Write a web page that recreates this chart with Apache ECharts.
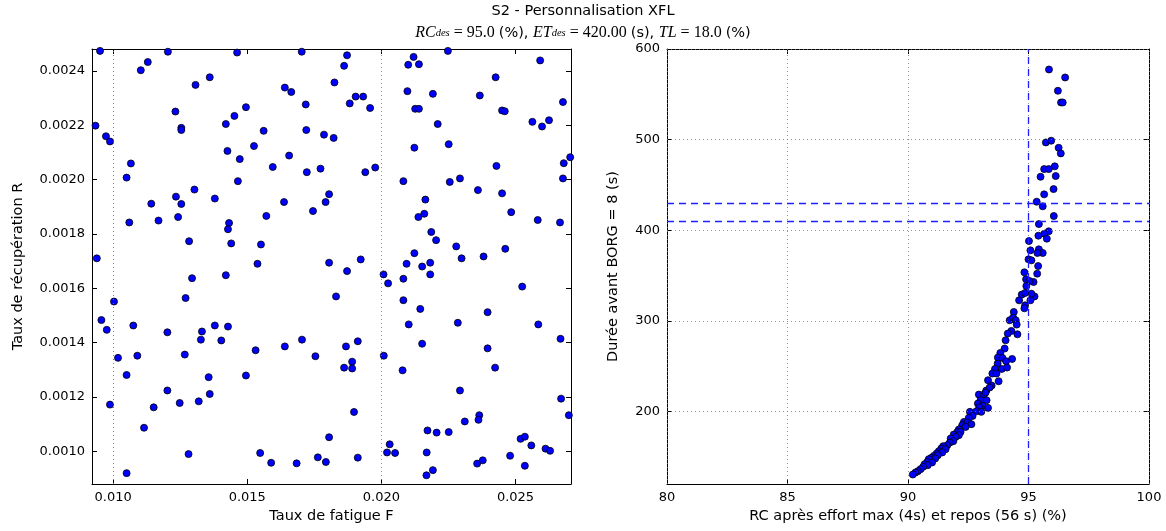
<!DOCTYPE html>
<html>
<head>
<meta charset="utf-8">
<script src="https://cdn.jsdelivr.net/npm/echarts@6/dist/echarts.min.js"></script>
<style>
html,body{margin:0;padding:0;background:#fff;}
#chart{width:1166px;height:531px;}
</style>
</head>
<body>
<div id="chart"></div>
<script>
// ---- Left subplot: Taux de fatigue F vs Taux de récupération R ----
const fatigueF = [
0.00951,0.01204,0.01462,0.01703,0.01129,0.01103,0.0136,0.01307,0.0164,0.01664,
0.01718,0.01495,0.01232,0.01452,0.0142,0.00934,0.01254,0.01254,0.01561,0.0172,
0.01786,0.00973,0.00988,0.01525,0.01426,0.01656,0.01472,0.01066,0.01595,0.01773,
0.01722,0.0105,0.01465,0.01805,0.01303,0.01234,0.01379,0.01637,0.01792,0.01142,
0.01254,0.01745,0.01242,0.01571,0.0106,0.01169,0.01432,0.01428,0.01283,0.0144,
0.01551,0.00939,
0.01538,0.01805,0.01294,0.0142,0.0127,0.01003,0.00956,0.00976,0.01075,0.01202,
0.01331,0.01327,0.01379,0.01428,0.01403,0.01704,0.01531,0.0164,0.01018,0.0109,
0.01267,0.01754,0.0105,0.01356,0.01495,0.01202,0.0136,0.00988,0.01151,0.01248,
0.01319,0.01115,0.01805,0.01281,0.01548,0.01589,0.01684,0.01763,0.01793,0.0105,
0.01872,0.01861,0.0212,0.021,0.0214,0.02248,0.02592,0.01825,0.02426,0.01904,
0.01932,0.01882,0.01958,0.02097,0.02192,0.02367,0.02126,0.0214,0.0245,0.0246,
0.02677,0.0221,0.02563,0.02599,0.02625,0.01822,0.02123,0.02251,0.0194,0.01977,
0.02429,0.02704,0.0268,0.02677,0.02082,0.02255,0.02293,0.0236,0.0245,0.02164,
0.0216,0.02138,0.02484,0.02583,0.02666,0.02186,0.02204,0.02279,0.02462,0.02708,
0.02123,0.01923,0.02299,0.02381,
0.01872,0.02008,0.02025,0.02082,0.02094,0.02152,0.02182,0.02182,0.02525,0.01831,
0.02082,0.02145,0.02396,0.02285,0.02102,0.02585,0.02668,0.01912,0.01868,0.02152,
0.02396,0.02009,0.01891,0.01861,0.01891,0.02079,0.02424,0.02293,0.0267,0.02699,
0.01898,0.02365,0.02362,0.02311,0.02172,0.02206,0.02251,0.02031,0.02021,0.02051,
0.02169,0.02519,0.02535,0.02559,0.02612,0.02629,0.0248,0.01912,0.02357,0.02378,
0.02535,0.02168,0.02192,0.02709
];
const recuperationR = [
0.002473,0.00247,0.002467,0.00247,0.002432,0.002402,0.002376,0.002348,0.002338,0.002322,
0.002276,0.002266,0.00225,0.002234,0.002204,0.002198,0.00219,0.002182,0.002179,0.002182,
0.002165,0.002159,0.00214,0.002123,0.002105,0.002088,0.002075,0.002059,0.002046,0.00204,
0.002027,0.002007,0.001994,0.001946,0.001963,0.001937,0.00193,0.001917,0.001917,0.001911,
0.00191,0.001884,0.001862,0.001866,0.001842,0.001849,0.00184,0.001817,0.001773,0.001765,
0.001761,0.00171,
0.00169,0.001694,0.001637,0.001648,0.001564,0.001551,0.001483,0.001447,0.001463,0.001438,
0.001441,0.001411,0.001463,0.001459,0.001408,0.001411,0.001372,0.001386,0.001344,0.001352,
0.001356,0.00135,0.001281,0.001273,0.001279,0.001224,0.001211,0.001172,0.001162,0.001178,
0.001184,0.001087,0.001052,0.00099,0.000994,0.000958,0.000956,0.000978,0.000961,0.00092,
0.002457,0.002418,0.002451,0.002422,0.002424,0.002473,0.002438,0.002357,0.002376,0.002305,
0.002305,0.00228,0.002263,0.002325,0.002315,0.002309,0.00226,0.00226,0.002254,0.002251,
0.002285,0.002204,0.002212,0.002195,0.002218,0.002153,0.002117,0.00213,0.002027,0.002044,
0.00205,0.002082,0.00206,0.002004,0.001994,0.001991,0.002004,0.001961,0.001949,0.001926,
0.001874,0.001862,0.00188,0.001851,0.001842,0.001807,0.001777,0.001754,0.001745,0.001771,
0.001729,0.001706,0.00171,0.001717,
0.001663,0.001651,0.001618,0.001635,0.00169,0.00168,0.001694,0.001651,0.001606,0.00157,
0.001556,0.001524,0.001512,0.001473,0.001467,0.001467,0.001414,0.001405,0.001386,0.001396,
0.001379,0.001352,0.00133,0.001308,0.001305,0.001298,0.001308,0.001224,0.001194,0.001133,
0.001145,0.001133,0.001116,0.00111,0.001077,0.001069,0.001071,0.001026,0.000996,0.000994,
0.000996,0.001046,0.001054,0.001022,0.00101,0.001002,0.000984,0.000977,0.000955,0.000967,
0.000947,0.000912,0.000931,0.000893
];
const leftXTicks = [0.010, 0.015, 0.020, 0.025];
const leftYTicks = [0.0010, 0.0012, 0.0014, 0.0016, 0.0018, 0.0020, 0.0022, 0.0024];

// ---- Right subplot: RC après effort vs Durée avant BORG ----
const rcApresEffort = [
95.85,96.52,96.22,96.35,96.42,95.72,95.94,96.25,96.34,96.09,95.65,95.84,95.5,96.13,
96.04,95.65,95.34,95.59,96.05,95.43,95.84,95.66,95.41,95.76,95.02,95.08,95.43,95.59,
95.37,95.0,95.12,95.4,94.83,95.36,94.9,95.21,95.04,94.91,
95.25,95.08,94.86,95.12,
94.72,94.86,94.61,94.83,94.39,94.22,94.36,94.47,94.51,94.29,94.14,94.54,94.05,94.01,
93.83,93.73,93.92,94.32,94.07,93.72,93.89,94.11,93.61,93.5,93.67,93.76,93.32,93.47,
93.25,93.39,92.94,93.15,
93.22,93.01,93.26,92.9,93.11,93.32,92.96,92.84,93.04,92.57,92.68,92.52,92.32,92.46,
92.63,92.25,92.39,92.11,92.05,92.18,91.9,92.11,91.98,91.77,91.88,91.74,91.63,91.46,
91.38,91.56,91.28,91.42,91.19,91.07,91.24,90.96,91.13,90.86,90.8,91.0,90.69,90.82,
90.63,90.52,90.41,90.31,90.2
];
const dureeBorg = [
577.4,568.6,553.9,541,541,496.9,498.8,491,484.8,470.5,467.5,467.5,459,459.8,
445.4,439.6,431.5,426.4,415.7,406.8,398.8,396.2,394,390.7,388.1,377.8,378.9,374.9,
374.9,367.9,366.8,360.5,353.6,352.1,345.9,342.9,344,338.5,
327,322.7,317.2,330,
329,330.8,322.7,313.9,309.8,300.7,303.6,300.7,295.9,288.9,286,285.2,278.6,269.5,
264.6,259.5,259.1,258,255.5,252.9,247,248.5,247,241.9,241.9,233.4,234.5,228.7,
223.2,226.5,218.7,218.7,
220.9,212.5,212.5,208.8,206.2,204,204.7,200.3,199.6,199.6,195.1,192.9,188.5,187.9,
186,184.9,183,180.2,177.5,177.5,174.6,173.9,172,170.2,167.3,165.8,162.8,161.7,
159.2,158.4,156.2,154.8,153.7,151,151.8,148.8,148.2,147.4,144.4,143.8,141.9,140.8,
138.9,136.4,134.2,132.7,130.5
];
const rightXTicks = [80, 85, 90, 95, 100];
const rightYTicks = [200, 300, 400, 500, 600];
const rcTarget = [95];
const dureeBounds = [410, 430];

const chart = echarts.init(document.getElementById('chart'), null, {renderer: 'canvas'});

const leftData = fatigueF.map((v, i) => [v, recuperationR[i]]);
const rightData = rcApresEffort.map((v, i) => [v, dureeBorg[i]]);

const FONT = 'DejaVu Sans';
const TICK_FS = 13;
const NAME_FS = 14.5;
const gridLine = {color: '#777', type: [1, 3], width: 0.8};
const frameLine = {show: true, onZero: false, lineStyle: {color: '#000', width: 1}};

function gridMarks(xs, ys) {
  return {
    silent: true, symbol: 'none', animation: false,
    label: {show: false}, lineStyle: gridLine,
    emphasis: {disabled: true},
    data: xs.map(v => ({xAxis: v})).concat(ys.map(v => ({yAxis: v})))
  };
}

function axis(gi, pos, min, max, ticks, fmt, name, nameGap) {
  const o = {
    type: 'value', gridIndex: gi, position: pos, min: min, max: max,
    axisLine: frameLine,
    axisTick: {show: true, inside: true, length: 5, customValues: ticks, lineStyle: {color: '#000'}},
    axisLabel: {show: pos === 'bottom' || pos === 'left', customValues: ticks, formatter: fmt,
                color: '#000', fontFamily: FONT, fontSize: TICK_FS, margin: 7},
    splitLine: {show: false}
  };
  if (name) {
    o.name = name; o.nameLocation = 'middle'; o.nameGap = nameGap;
    o.nameTextStyle = {color: '#000', fontFamily: FONT, fontSize: NAME_FS};
  }
  return o;
}

const fmt3 = v => v.toFixed(3);
const fmt4 = v => v.toFixed(4);
const fmt0 = v => String(Math.round(v));

const option = {
  animation: false,
  backgroundColor: '#fff',
  title: [{
    text: 'S2 - Personnalisation XFL',
    left: 'center', top: -1,
    textStyle: {fontFamily: FONT, fontSize: 14.5, fontWeight: 'normal', color: '#000'}
  }, {
    text: '{mi|RC}{sub|des}{rm| = 95.0 }{tx|(%), }{mi|ET}{sub|des}{rm| = 420.00 }{tx|(s), }{mi|TL}{rm| = 18.0 }{tx|(%)}',
    left: 'center', top: 13,
    textStyle: {
      fontWeight: 'normal', color: '#000',
      rich: {
        mi: {fontFamily: 'Liberation Serif', fontStyle: 'italic', fontSize: 16, color: '#000', height: 18, verticalAlign: 'bottom'},
        sub: {fontFamily: 'Liberation Serif', fontStyle: 'italic', fontSize: 10.5, color: '#000', height: 18, verticalAlign: 'bottom', padding: [6, 0, 0, 0]},
        rm: {fontFamily: 'Liberation Serif', fontSize: 16, color: '#000', height: 18, verticalAlign: 'bottom'},
        tx: {fontFamily: FONT, fontSize: 14.5, color: '#000', height: 18, verticalAlign: 'bottom'}
      }
    }
  }],
  grid: [
    {left: 92, top: 49, width: 479, height: 435},
    {left: 667, top: 49, width: 482, height: 435}
  ],
  xAxis: [
    axis(0, 'bottom', 0.00921, 0.02707, leftXTicks, fmt3, 'Taux de fatigue F', 25),
    axis(0, 'top', 0.00921, 0.02707, leftXTicks, fmt3),
    axis(1, 'bottom', 80, 100, rightXTicks, fmt0, 'RC après effort max (4s) et repos (56 s) (%)', 25),
    axis(1, 'top', 80, 100, rightXTicks, fmt0)
  ],
  yAxis: [
    axis(0, 'left', 0.00088, 0.00248, leftYTicks, fmt4, 'Taux de récupération R', 66),
    axis(0, 'right', 0.00088, 0.00248, leftYTicks, fmt4),
    axis(1, 'left', 120, 600, rightYTicks, fmt0, 'Durée avant BORG = 8 (s)', 46),
    axis(1, 'right', 120, 600, rightYTicks, fmt0)
  ],
  series: [
    {type: 'scatter', xAxisIndex: 0, yAxisIndex: 0, data: [], z: 1, silent: true,
     markLine: gridMarks(leftXTicks, leftYTicks)},
    {type: 'scatter', xAxisIndex: 2, yAxisIndex: 2, data: [], z: 1, silent: true,
     markLine: gridMarks(rightXTicks, rightYTicks)},
    {type: 'scatter', xAxisIndex: 0, yAxisIndex: 0, data: leftData, z: 3, clip: true,
     symbol: 'circle', symbolSize: 7,
     itemStyle: {color: '#0000ff', borderColor: '#000', borderWidth: 0.8, opacity: 1}},
    {type: 'scatter', xAxisIndex: 2, yAxisIndex: 2, data: rightData, z: 3, clip: true,
     symbol: 'circle', symbolSize: 7,
     itemStyle: {color: '#0000ff', borderColor: '#000', borderWidth: 0.8, opacity: 1}},
    {type: 'scatter', xAxisIndex: 2, yAxisIndex: 2, data: [], z: 5, silent: true,
     markLine: {
       silent: true, symbol: 'none', animation: false, label: {show: false},
       lineStyle: {color: '#2020ff', type: [7, 5], width: 1.3},
       emphasis: {disabled: true},
       data: rcTarget.map(v => ({xAxis: v})).concat(dureeBounds.map(v => ({yAxis: v})))
     }}
  ]
};
chart.setOption(option);
</script>
</body>
</html>
